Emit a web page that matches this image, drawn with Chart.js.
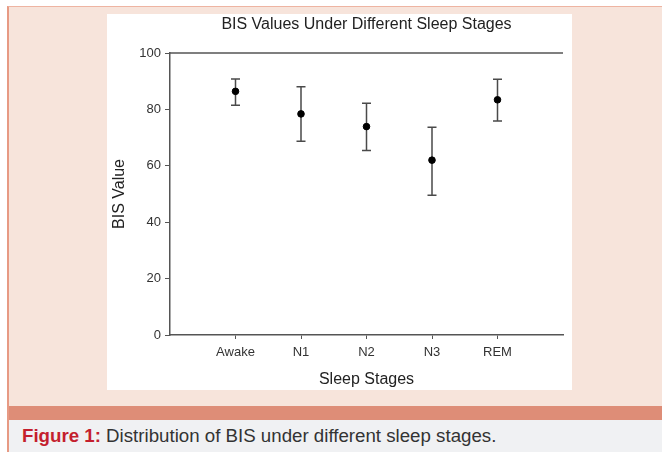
<!DOCTYPE html>
<html>
<head>
<meta charset="utf-8">
<script src="https://cdn.jsdelivr.net/npm/chart.js@4.4.1/dist/chart.umd.min.js"></script>
<style>
  html, body { margin: 0; padding: 0; background: #ffffff; width: 662px; height: 452px; overflow: hidden; }
  #frame { position: absolute; left: 7px; top: 6px; width: 655px; height: 446px; border-left: 2px solid #e79a84; border-top: 1px solid #eeb4a2; box-sizing: border-box; background: #f7e4db; }
  #panel { position: absolute; left: 107px; top: 14px; width: 465px; height: 376px; background: #ffffff; }
  #band { position: absolute; left: 9px; top: 406px; width: 653px; height: 14px; background: #de8d77; }
  #caption { position: absolute; left: 9px; top: 420px; width: 653px; height: 32px; background: #f0f1f3; font-family: "Liberation Sans", Arial, sans-serif; font-size: 18.7px; color: #333; line-height: 32px; padding-left: 13px; box-sizing: border-box; }
  #caption b { color: #c41f2e; }
  canvas { display: block; }
</style>
</head>
<body>
<div id="frame"></div>
<div id="panel"><canvas id="c" width="465" height="376"></canvas></div>
<div id="band"></div>
<div id="caption"><b>Figure 1:</b> Distribution of BIS under different sleep stages.</div>
<script>
const categories = ["Awake", "N1", "N2", "N3", "REM"];
const means = [86.4, 78.4, 73.9, 62.0, 83.4];
const upper = [90.8, 88.0, 82.2, 73.7, 90.7];
const lower = [81.5, 68.7, 65.4, 49.6, 75.9];
const yTicks = [0, 20, 40, 60, 80, 100];

const points = categories.map((c, i) => ({ x: i + 1, y: means[i], hi: upper[i], lo: lower[i] }));

const axisColor = '#555555';
const FONT = 'Liberation Sans, Arial, sans-serif';

const errorBars = {
  id: 'errorBars',
  beforeDatasetsDraw(chart) {
    const ctx = chart.ctx;
    const xs = chart.scales.x, ys = chart.scales.y;
    ctx.save();
    ctx.strokeStyle = '#4a4a4a';
    ctx.lineWidth = 1.5;
    points.forEach(p => {
      const x = xs.getPixelForValue(p.x);
      const yh = ys.getPixelForValue(p.hi);
      const yl = ys.getPixelForValue(p.lo);
      ctx.beginPath();
      ctx.moveTo(x, yh); ctx.lineTo(x, yl);
      ctx.moveTo(x - 4.5, yh); ctx.lineTo(x + 4.5, yh);
      ctx.moveTo(x - 4.5, yl); ctx.lineTo(x + 4.5, yl);
      ctx.stroke();
    });
    ctx.restore();
  },
  afterDraw(chart) {
    const ctx = chart.ctx, a = chart.chartArea;
    ctx.save();
    ctx.strokeStyle = axisColor;
    ctx.lineWidth = 1.5;
    ctx.beginPath();
    ctx.moveTo(a.left, a.top); ctx.lineTo(a.right, a.top);
    ctx.stroke();
    ctx.restore();
  }
};

new Chart(document.getElementById('c'), {
  type: 'scatter',
  data: {
    datasets: [{
      data: points,
      backgroundColor: '#000000',
      borderColor: '#000000',
      pointRadius: 3.3,
      pointHoverRadius: 3.3
    }]
  },
  options: {
    responsive: false,
    animation: false,
    events: [],
    layout: { padding: { left: 0, right: 9, top: 0, bottom: 0 } },
    plugins: {
      legend: { display: false },
      tooltip: { enabled: false },
      title: {
        display: true,
        fullSize: false,
        text: 'BIS Values Under Different Sleep Stages',
        color: '#222',
        font: { family: FONT, size: 16, weight: 'normal' },
        padding: { top: 1.4, bottom: 18.4 }
      }
    },
    scales: {
      x: {
        type: 'linear',
        min: 0, max: 6,
        afterBuildTicks(scale) { scale.ticks = categories.map((c, i) => ({ value: i + 1 })); },
        afterFit(scale) { scale.height = 55; },
        ticks: {
          callback: (v) => categories[v - 1] || '',
          color: '#333',
          font: { family: FONT, size: 13 },
          padding: 6,
          maxRotation: 0
        },
        grid: { drawOnChartArea: false, drawTicks: true, tickLength: 4, color: axisColor, lineWidth: 1 },
        border: { display: true, color: axisColor, width: 1.5 },
        title: {
          display: true, text: 'Sleep Stages', color: '#222',
          font: { family: FONT, size: 16 },
          padding: { top: 0, bottom: 0.5 }
        }
      },
      y: {
        min: 0, max: 100,
        afterBuildTicks(scale) { scale.ticks = yTicks.map(v => ({ value: v })); },
        afterFit(scale) { scale.width = 63; },
        ticks: {
          color: '#333',
          font: { family: FONT, size: 13 },
          padding: 4
        },
        grid: { drawOnChartArea: false, drawTicks: true, tickLength: 5, color: axisColor, lineWidth: 1 },
        border: { display: true, color: axisColor, width: 1.5 },
        title: {
          display: true, text: 'BIS Value', color: '#222',
          font: { family: FONT, size: 16 },
          padding: { top: 2.5, bottom: 0 }
        }
      }
    }
  },
  plugins: [errorBars]
});
</script>
</body>
</html>
